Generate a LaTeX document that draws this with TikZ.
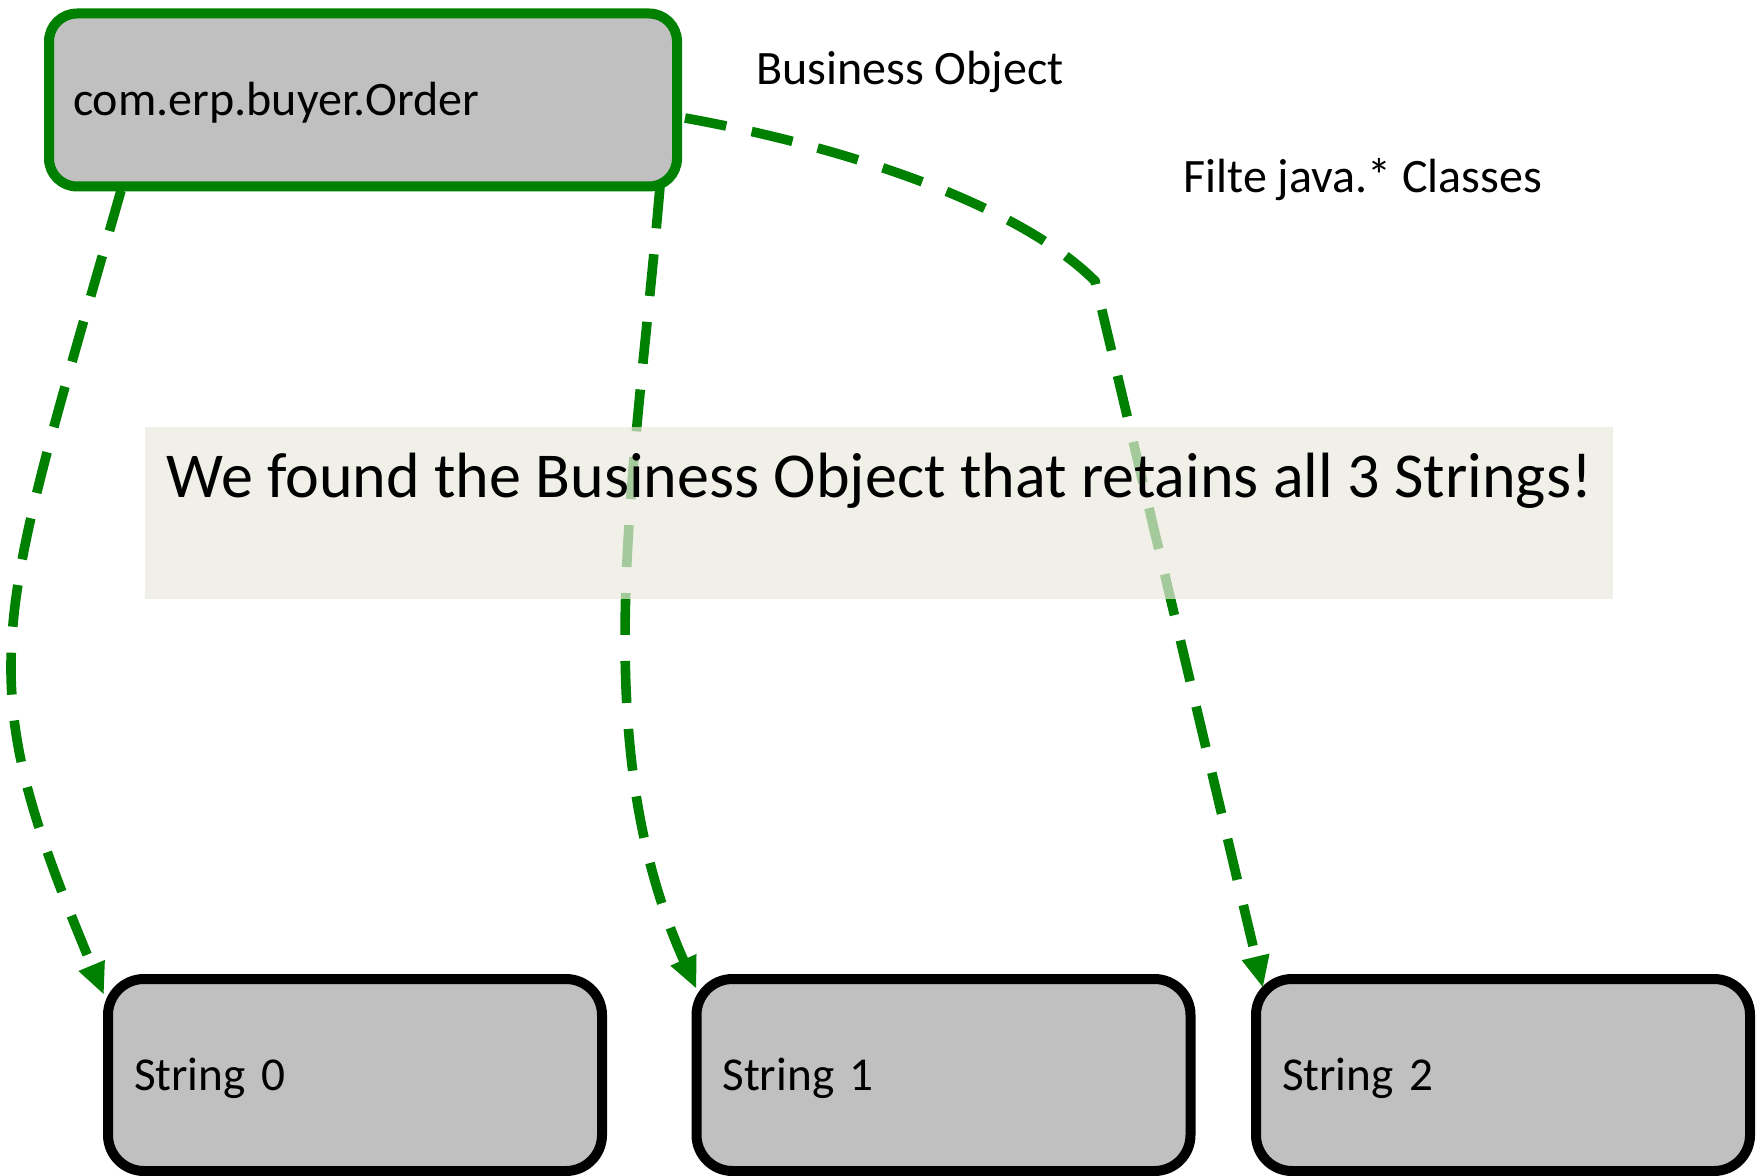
\documentclass[tikz,border=0pt]{standalone}
\usepackage{fontspec}
\setmainfont{Carlito}
\usetikzlibrary{arrows.meta,calc}
\definecolor{linkgreen}{RGB}{0,128,0}
\definecolor{boxgray}{RGB}{192,192,192}
\definecolor{bannerfill}{RGB}{234,232,222}
\begin{document}
\begin{tikzpicture}[x=0.5pt,y=-0.5pt,
  objbox/.style={draw, fill=boxgray, line width=5pt, outer sep=0pt,
    align=left, font=\fontsize{23.6}{28}\selectfont},
  bizbox/.style={objbox, draw=linkgreen, rounded corners=14pt, inner xsep=12pt,
    text width=290pt, minimum height=86.5pt, text depth=1.5pt,
    font=\fontsize{24}{28}\selectfont},
  strbox/.style={objbox, draw=black, rounded corners=18pt, inner xsep=13pt,
    text width=221pt, minimum height=96pt, text depth=0.5pt},
  note/.style={anchor=west, inner sep=0pt, font=\fontsize{24}{28}\selectfont},
  link/.style={draw=linkgreen, line width=4.8pt, dash pattern=on 21pt off 13pt,
    -{Triangle[length=16pt,width=13pt]}}]
\useasboundingbox (0,0) rectangle (1761,1176);

% objects
\node[bizbox] (order) at (363,100) {com.erp.buyer.Order};
\node[strbox] (s0) at (355,1075) {String 0};
\node[strbox] (s1) at (943.5,1075) {String 1};
\node[strbox] (s2) at (1503,1075) {String 2};

% labels
\node[note] (bo) at (756,72) {Business Object};
\node[note] (filter) at (1183,180) {Filte java.* Classes};

% references
\draw[link] ($(order.south west)+(72,4)$) .. controls (-7,641) and (-32,670) .. ($(s0.north west)+(-4,16)$);
\draw[link] ($(order.south east)+(-17,0)$) .. controls (635,480) and (585,740) .. ($(s1.north west)+(0,10)$);
\coordinate (bend) at (1095,281);
\draw[link] ($(order.east)+(8,18)$) .. controls (835,145) and (1015,201) .. (bend) -- ($(s2.north west)+(7,9)$);

% translucent banner
\node[fill=bannerfill, fill opacity=0.7, minimum width=734pt, minimum height=86pt, inner sep=0pt] (banner) at (879,513) {};
\node[anchor=west, inner sep=0pt, font=\fontsize{32}{38}\selectfont] (msg) at (166,481) {We found the Business Object that retains all 3 Strings!};
\end{tikzpicture}
\end{document}
